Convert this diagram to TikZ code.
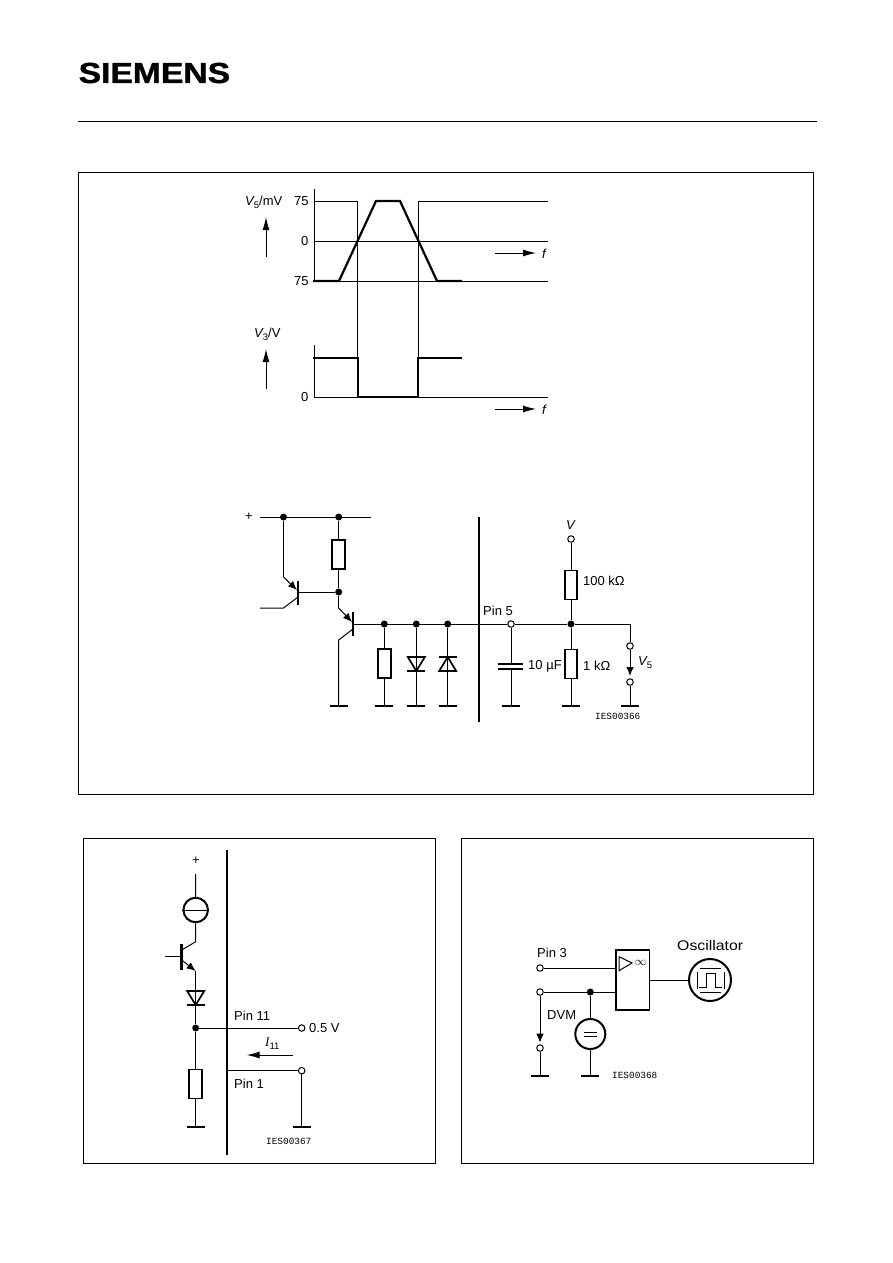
\documentclass[tikz,border=0pt]{standalone}
\usepackage{fontspec}
\setmainfont{Liberation Sans}
\newfontfamily\monofont{Liberation Mono}
\newfontfamily\serifont{Liberation Serif}
\newfontfamily\logofont[BoldFeatures={FakeBold=1.2}]{Liberation Sans}
\usetikzlibrary{arrows.meta}
\def\labelsize{\fontsize{13}{13}\selectfont}
\def\vname#1{{\itshape V}\raisebox{-3pt}{\fontsize{9.5}{9.5}\selectfont #1}}
\def\diodedown(#1){\draw[sym,shift={(#1)}] (-8.5,0) -- (8.5,0) -- (0,14) -- cycle; \draw[sym,shift={(#1)}] (-9,14) -- (9,14);}
\def\diodeup(#1){\draw[sym,shift={(#1)}] (-8.5,14) -- (8.5,14) -- (0,0) -- cycle; \draw[bar,shift={(#1)}] (-9,0) -- (9,0);}
\tikzset{
	wire/.style={line width=1pt},
	sym/.style={line width=1.7pt},
	bar/.style={line width=2.5pt},
	trace/.style={line width=2.2pt},
	res/.style={draw, line width=1.9pt, fill=white, minimum width=12.6, minimum height=29, inner sep=0},
	gnd/.style={fill=black, minimum width=18, minimum height=2, inner sep=0},
	dot/.style={circle, fill=black, minimum size=7, inner sep=0},
	term/.style={circle, draw, line width=1pt, fill=white, minimum size=6.5, inner sep=0},
	src/.style={circle, draw, line width=2pt, fill=white, inner sep=0},
	flow/.style={wire, -{Latex[length=13,width=7]}},
	emit/.style={wire, -{Latex[length=9,width=7.5]}},
	lab/.style={anchor=west, inner sep=0, font=\labelsize},
	code/.style={anchor=west, inner sep=0, font=\monofont\fontsize{9.4}{9.4}\selectfont},
}

\begin{document}
\begin{tikzpicture}[x=1pt, y=-1pt]
		\useasboundingbox (0, 0) rectangle (892, 1263);
		%%%%% START %%%%%
		
		% page head and frames
		\node[anchor=west, inner sep=0, font=\logofont\fontsize{29}{29}\selectfont\bfseries] (logo) at (78.5, 73) {\scalebox{1.16}[1]{SIEMENS}};
		\draw[wire] (78, 121) -- (817, 121);
		\draw[wire] (78.5, 172.5) rectangle (813.5, 794);
		\draw[wire] (83, 838) rectangle (435, 1163);
		\draw[wire] (461, 838) rectangle (813, 1163);
		
		% characteristic curves
		\draw[wire] (314, 189) -- (314, 281);
		\draw[wire] (314, 345) -- (314, 397);
		\draw[wire] (314, 201) -- (357.5, 201) -- (357.5, 397);
		\draw[wire] (548, 201) -- (418, 201) -- (418, 397);
		\draw[wire] (314, 241) -- (548, 241);
		\draw[wire] (314, 281) -- (548, 281);
		\draw[wire] (314, 397) -- (548, 397);
		\draw[trace] (313, 281) -- (339, 281) -- (376, 201) -- (400, 201) -- (437, 281) -- (462, 281);
		\draw[trace] (313, 358) -- (358, 358) -- (358, 397) -- (418, 397) -- (418, 358) -- (462, 358);
		\draw[flow] (266, 257) -- (266, 217);
		\draw[flow] (266, 389) -- (266, 349);
		\draw[flow] (495, 253) -- (536, 253);
		\draw[flow] (495, 409) -- (536, 409);
		\node[lab] (lblvfive) at (245, 202) {\vname{5}/mV};
		\node[lab] (lblvthree) at (254, 334) {\vname{3}/V};
		\node[lab] (lblhigh) at (294, 201) {75};
		\node[lab] (lblzero) at (301, 241) {0};
		\node[lab] (lbllow) at (294, 281) {75};
		\node[lab] (lblzerob) at (301, 397) {0};
		\node[lab] (lblfa) at (542, 254) {\itshape f};
		\node[lab] (lblfb) at (542, 410) {\itshape f};
		
		% output stage and pin 5 network
		\draw[bar] (479, 517) -- (479, 722);
		\node[lab] (lblplus) at (245, 517) {+};
		\coordinate (railL) at (260, 517);
		\coordinate (railR) at (371, 517);
		\node[dot] (railA) at (283.5, 517) {};
		\node[dot] (railB) at (338.7, 517) {};
		\draw[wire] (railL) -- (railR);
		\node[res] (rtop) at (338.7, 554.5) {};
		\node[dot] (jbase) at (338.7, 592) {};
		\draw[wire] (railB) -- (rtop) -- (jbase);
		
		\draw[bar] (298, 581) -- (298, 605);
		\coordinate (qoneB) at (298, 592);
		\coordinate (qoneE) at (283.5, 577);
		\coordinate (qoneC) at (283.5, 608);
		\coordinate (qoneIn) at (260, 608);
		\draw[wire] (railA) -- (qoneE);
		\draw[wire] (qoneB) -- (jbase);
		\draw[emit] (qoneE) -- (297, 590);
		\draw[wire] (298, 597) -- (qoneC) -- (qoneIn);
		
		\draw[bar] (353, 612) -- (353, 636);
		\coordinate (qtwoE) at (338.7, 608);
		\coordinate (qtwoC) at (338.7, 640);
		\node[gnd] (gndq) at (338.7, 706) {};
		\draw[wire] (jbase) -- (qtwoE);
		\draw[emit] (qtwoE) -- (352, 622);
		\draw[wire] (353, 629) -- (qtwoC) -- (gndq);
		
		\coordinate (qtwoB) at (353, 624);
		\node[dot] (jres) at (384.3, 624) {};
		\node[dot] (jdio) at (416.3, 624) {};
		\node[dot] (jzen) at (447.7, 624) {};
		\node[term] (pinfive) at (511, 624) {};
		\node[dot] (jdiv) at (571, 624) {};
		\draw[wire] (qtwoB) -- (pinfive) -- (jdiv);
		
		\node[res] (rload) at (384.3, 663.5) {};
		\node[gnd] (gndr) at (384.3, 706) {};
		\draw[wire] (jres) -- (rload) -- (gndr);
		
		\node[gnd] (gndd) at (416.3, 706) {};
		\draw[wire] (jdio) -- (gndd);
		\diodedown(416.3, 657)
		\node[gnd] (gndz) at (447.7, 706) {};
		\draw[wire] (jzen) -- (gndz);
		\diodeup(447.7, 657)
		
		\node[gnd] (gndc) at (511, 706) {};
		\coordinate (capA) at (511, 664.3);
		\coordinate (capB) at (511, 669.3);
		\draw[wire] (pinfive) -- (capA);
		\draw[wire] (capB) -- (gndc);
		\draw[trace] (498, 664.3) -- (523, 664.3);
		\draw[trace] (498, 669.3) -- (523, 669.3);
		
		\node[term] (termv) at (571, 539) {};
		\node[res] (rhundred) at (571, 585) {};
		\node[res] (rone) at (571, 664) {};
		\node[gnd] (gnddiv) at (571, 706) {};
		\draw[wire] (termv) -- (rhundred) -- (jdiv) -- (rone) -- (gnddiv);
		
		\node[term] (termvA) at (630, 646) {};
		\node[term] (termvB) at (630, 682) {};
		\node[gnd] (gndv) at (630, 706) {};
		\draw[wire] (jdiv) -| (termvA);
		\draw[emit] (termvA) -- (630, 676);
		\draw[wire] (termvB) -- (gndv);
		
		\node[lab] (lblv) at (566, 525) {\itshape V};
		\node[lab] (lblhundred) at (583, 581) {100 kΩ};
		\node[lab] (lblpinfive) at (483, 611) {Pin 5};
		\node[lab] (lblcap) at (528, 666) {10 µF};
		\node[lab] (lblone) at (583, 666) {1 kΩ};
		\node[lab] (lblvout) at (638, 663) {\vname{5}};
		\node[code] (lblcodea) at (595, 716) {IES00366};
		
		% pin 11 circuit
		\draw[bar] (227, 850) -- (227, 1155);
		\node[lab] (lblplusb) at (192, 861) {+};
		\coordinate (supply) at (195.7, 874);
		\node[src, minimum size=24.5] (source) at (195.7, 910) {};
		\draw[wire] (source.west) -- (source.east);
		\coordinate (qthreeC) at (195.7, 941.7);
		\coordinate (qthreeE) at (195.7, 971);
		\coordinate (qthreeIn) at (165, 956.7);
		\draw[wire] (supply) -- (source) -- (qthreeC) -- (181.7, 950);
		\draw[bar] (181.7, 944) -- (181.7, 969.7);
		\draw[wire] (qthreeIn) -- (181.7, 956.7);
		\draw[emit] (181.7, 960) -- (qthreeE);
		\node[dot] (jeleven) at (195.7, 1028) {};
		\node[res] (rpin) at (195.7, 1084) {};
		\node[gnd] (gndp) at (195.7, 1127) {};
		\draw[wire] (qthreeE) -- (jeleven) -- (rpin) -- (gndp);
		\diodedown(195.7, 991)
		\node[term] (termhalf) at (301.7, 1028) {};
		\draw[wire] (jeleven) -- (termhalf);
		\coordinate (pinone) at (227, 1070.7);
		\node[term] (termone) at (301.7, 1070.7) {};
		\node[gnd] (gndone) at (301.7, 1127) {};
		\draw[wire] (pinone) -- (termone) -- (gndone);
		\coordinate (curA) at (293, 1055);
		\coordinate (curB) at (246.7, 1055);
		\draw[flow] (curA) -- (curB);
		\node[lab] (lblpineleven) at (234, 1016) {Pin 11};
		\node[lab] (lblhalf) at (309, 1028) {0.5 V};
		\node[lab] (lblcur) at (265, 1044) {{\serifont\itshape I}\raisebox{-3pt}{\fontsize{9.5}{9.5}\selectfont 11}};
		\node[lab] (lblpinone) at (234, 1084) {Pin 1};
		\node[code] (lblcodeb) at (266, 1141) {IES00367};
		
		% pin 3 circuit
		\node[draw, line width=1.9pt, minimum width=33.5, minimum height=60, inner sep=0] (amp) at (632.7, 980) {};
		\draw[wire] (619, 956.7) -- (619, 970.7) -- (632, 963) -- cycle;
		\node[inner sep=0, font=\fontsize{12}{12}\selectfont] (lblinf) at (640.5, 963) {$\infty$};
		\node[term] (termpin) at (540, 968) {};
		\coordinate (ampA) at (616, 968);
		\draw[wire] (termpin) -- (ampA);
		\node[term] (termdvm) at (540, 992) {};
		\node[dot] (jdvm) at (590.3, 992) {};
		\coordinate (ampB) at (616, 992);
		\draw[wire] (termdvm) -- (ampB);
		\node[src, minimum size=30] (meter) at (590.3, 1034) {};
		\node[gnd] (gndm) at (590.3, 1076) {};
		\draw[wire] (jdvm) -- (meter) -- (gndm);
		\draw[wire] (584, 1032.5) -- (597, 1032.5);
		\draw[wire] (584, 1036) -- (597, 1036);
		\node[term] (termlow) at (540, 1048) {};
		\node[gnd] (gndl) at (540, 1076) {};
		\draw[emit] (termdvm) -- (540, 1042.7);
		\draw[wire] (termlow) -- (gndl);
		\node[src, minimum size=42] (osc) at (710, 980) {};
		\draw[wire] (amp) -- (osc);
		\draw[wire] (697, 972) -- (697, 989);
		\draw[wire] (724, 972) -- (724, 989);
		\draw[wire] (700, 968) -- (721, 968);
		\draw[wire] (700, 992) -- (721, 992);
		\draw[wire] (699, 987) -- (706.5, 987) -- (706.5, 973) -- (715, 973) -- (715, 987) -- (722, 987);
		\node[lab] (lblpinthree) at (537, 953) {Pin 3};
		\node[lab] (lbldvm) at (547, 1015) {DVM};
		\node[lab, font=\fontsize{14}{14}\selectfont] (lblosc) at (677, 945) {\scalebox{1.13}[1]{Oscillator}};
		\node[code] (lblcodec) at (612, 1075) {IES00368};
		
		%%%%% END %%%%%
	\end{tikzpicture}
\end{document}
